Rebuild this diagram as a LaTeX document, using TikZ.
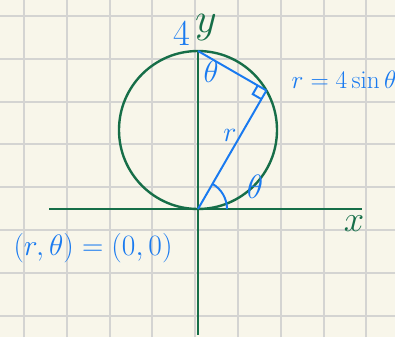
\RequirePackage{fix-cm}
\documentclass[tikz,border=0pt]{standalone}
\usepackage{amsmath}
\usepackage{xcolor}
\usepackage{tikz}
\usetikzlibrary{calc,positioning}
\definecolor{paperCream}{RGB}{248,246,234}
\definecolor{gridGray}{RGB}{212,212,210}
\definecolor{axisGreen}{RGB}{22,110,72}
\definecolor{inkBlue}{RGB}{25,122,240}

\begin{document}
\begin{tikzpicture}[x=0.025cm, y=0.025cm,
    gridline/.style={draw=gridGray, line width=1.4pt},
    axisline/.style={draw=axisGreen, line width=1.7pt},
    inkline/.style={draw=inkBlue, line width=1.4pt},
    inklabel/.style={text=inkBlue, inner sep=0pt, font=\fontsize{22}{24}\selectfont},
    axislabel/.style={text=axisGreen, inner sep=0pt, font=\fontsize{30}{32}\selectfont}]
    \fill[paperCream] (0,0) rectangle (395,337);
    \useasboundingbox (0,0) rectangle (395,337);
    \foreach \k in {0,...,8} \draw[gridline] ({24+42.8*\k},0) -- ({24+42.8*\k},337);
    \foreach \k in {0,...,7} \draw[gridline] (0,{321-42.8*\k}) -- (395,{321-42.8*\k});

    \coordinate (O) at (198,128);
    \coordinate (T) at (198,286);
    \coordinate (C) at (198,207);
    \coordinate (P) at (266.4,246.5);
    \coordinate (xl) at (49,128);
    \coordinate (xr) at (362,128);
    \coordinate (yb) at (198,2);

    \draw[axisline] (xl)--(xr);
    \draw[axisline] (T)--(yb);
    \draw[axisline] (C) circle[radius=79];

    \draw[inkline] (O)--(P);
    \draw[inkline] (P)--(T);
    \coordinate (ra) at ($(P)!0.25cm!(O)$);
    \coordinate (rb) at ($(P)!0.25cm!(T)$);
    \draw[inkline] (ra)--($(ra)+(rb)-(P)$)--(rb);
    \draw[inkline] ($(O)+(29,0)$) arc[start angle=0, end angle=60, radius=29];

    \node[axislabel] (ylab) at (206,309) {$y$};
    \node[axislabel, font=\fontsize{26}{28}\selectfont] (xlab) at (354,113) {$x$};
    \node[inklabel, font=\fontsize{26}{28}\selectfont] (four) at (182,304) {4};
    \node[inklabel] (thtop) at (211,265) {$\theta$};
    \node[inklabel, font=\fontsize{20}{22}\selectfont] (rlab) at (230,202) {$r$};
    \node[inklabel, font=\fontsize{24}{26}\selectfont] (thbot) at (255,150) {$\theta$};
    \node[inklabel, font=\fontsize{18}{20}\selectfont] (eq) at (344,257) {$r=4\sin\theta$};
    \node[inklabel, font=\fontsize{21}{23}\selectfont] (pole) at (93,89) {$(r,\theta)=(0,0)$};
\end{tikzpicture}
\end{document}
